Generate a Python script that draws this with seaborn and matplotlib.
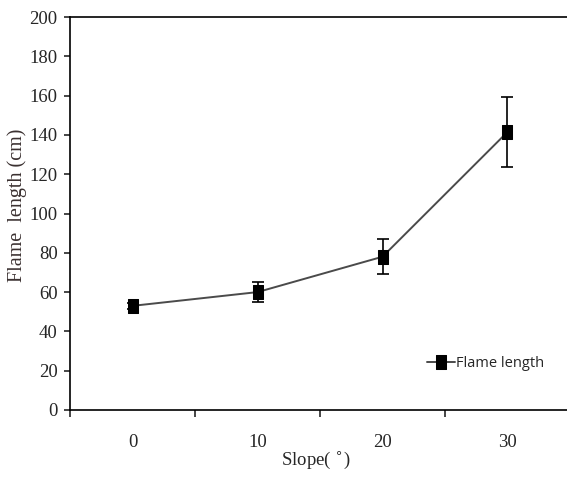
import matplotlib
matplotlib.use("Agg")
import matplotlib.pyplot as plt
from matplotlib.ticker import FixedLocator
from matplotlib.path import Path
import seaborn as sns
import pandas as pd

slopes = [0, 10, 20, 30]
flame_length = [53, 60, 78, 141.5]
flame_err = [1.5, 5, 9, 18]
y_ticks = [0, 20, 40, 60, 80, 100, 120, 140, 160, 180, 200]

sns.set_style("ticks")
plt.rcParams["font.family"] = ["Liberation Serif", "DejaVu Serif"]

df = pd.DataFrame({"pos": range(len(slopes)), "length": flame_length})

# upright rectangular marker
rect = Path([(-0.8, -1), (0.8, -1), (0.8, 1), (-0.8, 1), (-0.8, -1)],
            [Path.MOVETO, Path.LINETO, Path.LINETO, Path.LINETO, Path.CLOSEPOLY])

fig = plt.figure(figsize=(5.67, 4.8), dpi=100)
ax = fig.add_axes([70 / 567, 70 / 480, 497 / 567, 393 / 480])

ax.errorbar(df["pos"], df["length"], yerr=flame_err, fmt="none",
            ecolor="black", elinewidth=1.2, capsize=4, capthick=1.2, zorder=2)
sns.lineplot(data=df, x="pos", y="length", ax=ax, color="#4a4a4a",
             linewidth=1.4, marker=rect, markersize=9.5, markerfacecolor="black",
             markeredgecolor="black", label="Flame length", zorder=3)

ax.set_xlim(-0.5, -0.5 + 497 / 125)
ax.set_ylim(0, 200)
ax.set_xticks(range(len(slopes)))
ax.set_xticklabels([str(s) for s in slopes], fontsize=13.5)
ax.xaxis.set_minor_locator(FixedLocator([-0.5, 0.5, 1.5, 2.5, 3.5]))
ax.tick_params(axis="x", which="major", length=0, pad=17)
ax.tick_params(axis="x", which="minor", length=5, width=1.2, direction="out")
ax.set_yticks(y_ticks)
ax.set_yticklabels([str(v) for v in y_ticks], fontsize=13.5)
ax.tick_params(axis="y", length=4, width=1.2, direction="out", pad=5)

for side in ["left", "bottom", "top"]:
    ax.spines[side].set_visible(True)
    ax.spines[side].set_linewidth(1.2)
    ax.spines[side].set_color("black")
ax.spines["right"].set_visible(False)

ax.set_xlabel("Slope( $^{\\circ}$)", fontsize=13.5)
ax.xaxis.set_label_coords((316 - 70) / 497, -40 / 393)
ax.set_ylabel("Flame  length (cm)", fontsize=14.5, color="#3a3030")
ax.yaxis.set_label_coords(-43 / 497, (410 - 205) / 393)

ax.legend(loc="lower left", bbox_to_anchor=((414 - 70) / 497, (410 - 384) / 393),
          frameon=False, handlelength=1.9, handletextpad=0.05,
          prop={"family": ["Open Sans", "DejaVu Sans"], "size": 10.5})

fig.savefig("out.png", dpi=100)
